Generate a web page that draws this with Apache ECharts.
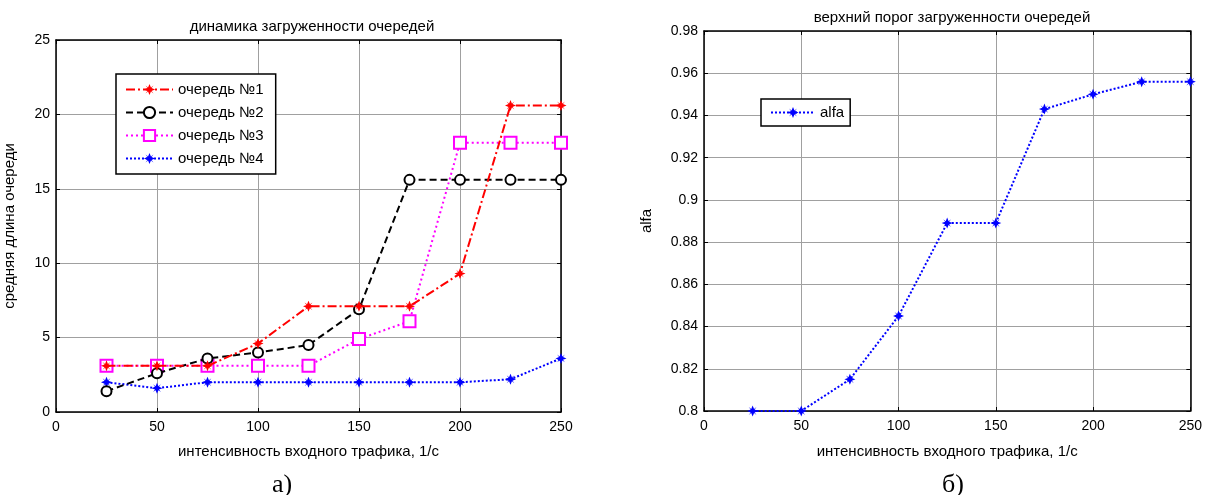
<!DOCTYPE html>
<html>
<head>
<meta charset="utf-8">
<script src="https://cdn.jsdelivr.net/npm/echarts@6/dist/echarts.min.js"></script>
<style>
  html, body { margin: 0; padding: 0; background: #fff; }
  #chart { width: 1205px; height: 495px; }
</style>
</head>
<body>
<div id="chart"></div>
<script>
// интенсивность входного трафика, 1/с
const traffic = [25, 50, 75, 100, 125, 150, 175, 200, 225, 250]
// средняя длина очереди
const queue1 = [3.1, 3.1, 3.1, 4.6, 7.1, 7.1, 7.1, 9.3, 20.6, 20.6]
const queue2 = [1.4, 2.6, 3.6, 4.0, 4.5, 6.9, 15.6, 15.6, 15.6, 15.6]
const queue3 = [3.1, 3.1, 3.1, 3.1, 3.1, 4.9, 6.1, 18.1, 18.1, 18.1]
const queue4 = [2.0, 1.6, 2.0, 2.0, 2.0, 2.0, 2.0, 2.0, 2.2, 3.6]
const alfa = [0.800, 0.800, 0.815, 0.845, 0.889, 0.889, 0.943, 0.950, 0.956, 0.956]
const queueNames = ['очередь №1', 'очередь №2', 'очередь №3', 'очередь №4']

const font = 'Liberation Sans, Arial, sans-serif'
const star = 'path://M0,-10 L2.6,-3.6 L7.1,-7.1 L3.6,-2.6 L10,0 L3.6,2.6 L7.1,7.1 L2.6,3.6 L0,10 L-2.6,3.6 L-7.1,7.1 L-3.6,2.6 L-10,0 L-3.6,-2.6 L-7.1,-7.1 L-2.6,-3.6 Z'

const pairs = ys => traffic.map((x, i) => [x, ys[i]])

// оси в стиле matlab: рамка, риски внутрь, серая сетка
function xAxes(gridIndex, nameGap) {
  const base = {
    type: 'value', gridIndex, min: 0, max: 250, interval: 50,
    axisLine: { onZero: false, lineStyle: { color: '#000', width: 1.5 } },
    axisTick: { inside: true, length: 4, lineStyle: { color: '#000' } },
  }
  return [
    Object.assign({}, base, {
      position: 'bottom',
      name: 'интенсивность входного трафика, 1/с',
      nameLocation: 'middle',
      nameGap,
      nameTextStyle: { color: '#000', fontSize: 15, fontFamily: font },
      axisLabel: { color: '#000', fontSize: 14, fontFamily: font, margin: 8 },
      splitLine: { show: true, lineStyle: { color: '#a0a0a0', width: 1 } },
    }),
    Object.assign({}, base, {
      position: 'top',
      axisLabel: { show: false },
      splitLine: { show: false },
    }),
  ]
}

function yAxes(gridIndex, min, max, interval, name, nameGap, fmt) {
  const base = {
    type: 'value', gridIndex, min, max, interval,
    axisLine: { onZero: false, lineStyle: { color: '#000', width: 1.5 } },
    axisTick: { inside: true, length: 4, lineStyle: { color: '#000' } },
  }
  return [
    Object.assign({}, base, {
      position: 'left',
      name,
      nameLocation: 'middle',
      nameGap,
      nameTextStyle: { color: '#000', fontSize: 15, fontFamily: font },
      axisLabel: { color: '#000', fontSize: 14, fontFamily: font, margin: 6, formatter: fmt },
      splitLine: { show: true, lineStyle: { color: '#a0a0a0', width: 1 } },
    }),
    Object.assign({}, base, {
      position: 'right',
      axisLabel: { show: false },
      splitLine: { show: false },
    }),
  ]
}

const queueStyles = [
  { color: '#ff0000', type: [9, 3, 2, 3], symbol: star, size: 11 },
  { color: '#000000', type: [7, 4], symbol: 'emptyCircle', size: 10 },
  { color: '#ff00ff', type: [2, 3], symbol: 'emptyRect', size: 12 },
  { color: '#0000ff', type: [2, 2], symbol: star, size: 11 },
]
const queueData = [queue1, queue2, queue3, queue4]

const series = queueData.map((ys, i) => ({
  name: queueNames[i],
  type: 'line',
  xAxisIndex: 0,
  yAxisIndex: 0,
  data: pairs(ys),
  clip: false,
  color: queueStyles[i].color,
  symbol: queueStyles[i].symbol,
  symbolSize: queueStyles[i].size,
  showAllSymbol: true,
  lineStyle: { width: 2, type: queueStyles[i].type },
  itemStyle: { borderWidth: 2 },
  z: 10 - i,
}))

series.push({
  name: 'alfa',
  type: 'line',
  xAxisIndex: 2,
  yAxisIndex: 2,
  data: pairs(alfa),
  clip: false,
  color: '#0000ff',
  symbol: star,
  symbolSize: 11,
  lineStyle: { width: 2, type: [2, 2] },
})

const option = {
  animation: false,
  backgroundColor: '#fff',
  textStyle: { fontFamily: font },
  title: [
    { text: 'динамика загруженности очередей', left: 307, top: 14, textAlign: 'center',
      textStyle: { fontSize: 15, fontWeight: 'normal', color: '#000', fontFamily: font } },
    { text: 'верхний порог загруженности очередей', left: 947, top: 5, textAlign: 'center',
      textStyle: { fontSize: 15, fontWeight: 'normal', color: '#000', fontFamily: font } },
    { text: 'а)', left: 277, top: 467, textAlign: 'center',
      textStyle: { fontSize: 26, fontWeight: 'normal', color: '#000', fontFamily: 'Liberation Serif, serif' } },
    { text: 'б)', left: 948, top: 467, textAlign: 'center',
      textStyle: { fontSize: 26, fontWeight: 'normal', color: '#000', fontFamily: 'Liberation Serif, serif' } },
  ],
  legend: [
    {
      data: queueNames,
      orient: 'vertical',
      left: 116,
      top: 74,
      width: 161,
      padding: [8, 12, 8, 9],
      itemWidth: 47,
      itemHeight: 14,
      itemGap: 8,
      backgroundColor: '#fff',
      borderColor: '#000',
      borderWidth: 1.5,
      borderRadius: 0,
      textStyle: { color: '#000', fontSize: 15, fontFamily: font },
    },
    {
      data: ['alfa'],
      left: 761,
      top: 99,
      padding: [6, 6, 6, 9],
      itemWidth: 44,
      itemHeight: 14,
      backgroundColor: '#fff',
      borderColor: '#000',
      borderWidth: 1.5,
      borderRadius: 0,
      textStyle: { color: '#000', fontSize: 15, fontFamily: font },
    },
  ],
  grid: [
    { left: 56, top: 40, width: 505, height: 372, containLabel: false },
    { left: 704, top: 31, width: 487, height: 380, containLabel: false },
  ],
  xAxis: [...xAxes(0, 32), ...xAxes(1, 33)],
  yAxis: [
    ...yAxes(0, 0, 25, 5, 'средняя длина очереди', 39, v => v),
    ...yAxes(1, 0.8, 0.98, 0.02, 'alfa', 50, v => String(+v.toFixed(2))),
  ],
  series,
}

const chart = echarts.init(document.getElementById('chart'))
chart.setOption(option)
</script>
</body>
</html>
